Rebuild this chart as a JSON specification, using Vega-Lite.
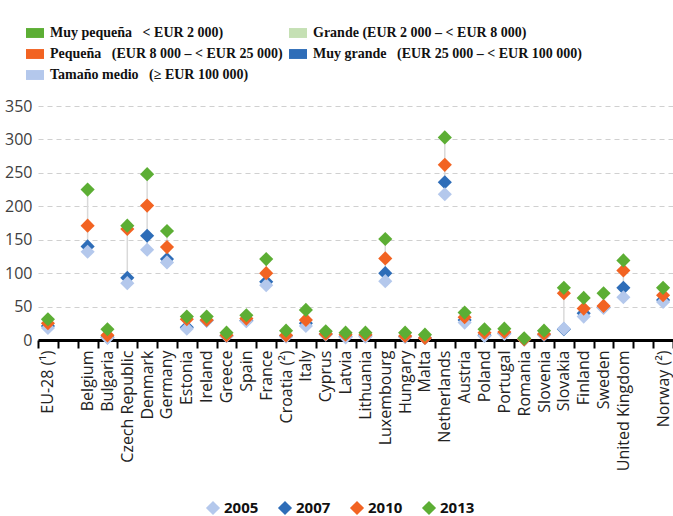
{
  "$schema": "https://vega.github.io/schema/vega-lite/v6.json",
  "width": 635,
  "height": 234,
  "autosize": {"type": "none"},
  "padding": {"left": 38, "top": 106, "right": 0, "bottom": 176},
  "background": "white",
  "config": {
    "view": {"stroke": null},
    "font": "Open Sans"
  },
  "datasets": {
    "vals": [
      {"c": "EU-28 (¹)", "y": "2007", "v": 21}, {"c": "EU-28 (¹)", "y": "2005", "v": 18}, {"c": "EU-28 (¹)", "y": "2010", "v": 25}, {"c": "EU-28 (¹)", "y": "2013", "v": 31},
      {"c": "Belgium", "y": "2007", "v": 140}, {"c": "Belgium", "y": "2005", "v": 132}, {"c": "Belgium", "y": "2010", "v": 171}, {"c": "Belgium", "y": "2013", "v": 225},
      {"c": "Bulgaria", "y": "2007", "v": 4}, {"c": "Bulgaria", "y": "2005", "v": 3}, {"c": "Bulgaria", "y": "2010", "v": 7}, {"c": "Bulgaria", "y": "2013", "v": 16},
      {"c": "Czech Republic", "y": "2007", "v": 93}, {"c": "Czech Republic", "y": "2005", "v": 85}, {"c": "Czech Republic", "y": "2010", "v": 166}, {"c": "Czech Republic", "y": "2013", "v": 171},
      {"c": "Denmark", "y": "2007", "v": 156}, {"c": "Denmark", "y": "2005", "v": 135}, {"c": "Denmark", "y": "2010", "v": 201}, {"c": "Denmark", "y": "2013", "v": 248},
      {"c": "Germany", "y": "2007", "v": 121}, {"c": "Germany", "y": "2005", "v": 116}, {"c": "Germany", "y": "2010", "v": 139}, {"c": "Germany", "y": "2013", "v": 163},
      {"c": "Estonia", "y": "2007", "v": 19}, {"c": "Estonia", "y": "2005", "v": 17}, {"c": "Estonia", "y": "2010", "v": 31}, {"c": "Estonia", "y": "2013", "v": 35},
      {"c": "Ireland", "y": "2007", "v": 29}, {"c": "Ireland", "y": "2005", "v": 29}, {"c": "Ireland", "y": "2010", "v": 30}, {"c": "Ireland", "y": "2013", "v": 35},
      {"c": "Greece", "y": "2007", "v": 6}, {"c": "Greece", "y": "2005", "v": 6}, {"c": "Greece", "y": "2010", "v": 7}, {"c": "Greece", "y": "2013", "v": 11},
      {"c": "Spain", "y": "2007", "v": 29}, {"c": "Spain", "y": "2005", "v": 28}, {"c": "Spain", "y": "2010", "v": 32}, {"c": "Spain", "y": "2013", "v": 37},
      {"c": "France", "y": "2007", "v": 87}, {"c": "France", "y": "2005", "v": 82}, {"c": "France", "y": "2010", "v": 100}, {"c": "France", "y": "2013", "v": 121},
      {"c": "Croatia (²)", "y": "2007", "v": 6}, {"c": "Croatia (²)", "y": "2005", "v": 5}, {"c": "Croatia (²)", "y": "2010", "v": 7}, {"c": "Croatia (²)", "y": "2013", "v": 14},
      {"c": "Italy", "y": "2007", "v": 25}, {"c": "Italy", "y": "2005", "v": 21}, {"c": "Italy", "y": "2010", "v": 30}, {"c": "Italy", "y": "2013", "v": 45},
      {"c": "Cyprus", "y": "2007", "v": 9}, {"c": "Cyprus", "y": "2005", "v": 8}, {"c": "Cyprus", "y": "2010", "v": 9}, {"c": "Cyprus", "y": "2013", "v": 13},
      {"c": "Latvia", "y": "2007", "v": 5}, {"c": "Latvia", "y": "2005", "v": 4}, {"c": "Latvia", "y": "2010", "v": 8}, {"c": "Latvia", "y": "2013", "v": 11},
      {"c": "Lithuania", "y": "2007", "v": 6}, {"c": "Lithuania", "y": "2005", "v": 5}, {"c": "Lithuania", "y": "2010", "v": 8}, {"c": "Lithuania", "y": "2013", "v": 11},
      {"c": "Luxembourg", "y": "2007", "v": 100}, {"c": "Luxembourg", "y": "2005", "v": 88}, {"c": "Luxembourg", "y": "2010", "v": 122}, {"c": "Luxembourg", "y": "2013", "v": 151},
      {"c": "Hungary", "y": "2007", "v": 5}, {"c": "Hungary", "y": "2005", "v": 5}, {"c": "Hungary", "y": "2010", "v": 6}, {"c": "Hungary", "y": "2013", "v": 11},
      {"c": "Malta", "y": "2007", "v": 3}, {"c": "Malta", "y": "2005", "v": 3}, {"c": "Malta", "y": "2010", "v": 3}, {"c": "Malta", "y": "2013", "v": 8},
      {"c": "Netherlands", "y": "2007", "v": 236}, {"c": "Netherlands", "y": "2005", "v": 218}, {"c": "Netherlands", "y": "2010", "v": 262}, {"c": "Netherlands", "y": "2013", "v": 303},
      {"c": "Austria", "y": "2007", "v": 30}, {"c": "Austria", "y": "2005", "v": 26}, {"c": "Austria", "y": "2010", "v": 34}, {"c": "Austria", "y": "2013", "v": 41},
      {"c": "Poland", "y": "2007", "v": 7}, {"c": "Poland", "y": "2005", "v": 6}, {"c": "Poland", "y": "2010", "v": 11}, {"c": "Poland", "y": "2013", "v": 16},
      {"c": "Portugal", "y": "2007", "v": 10}, {"c": "Portugal", "y": "2005", "v": 9}, {"c": "Portugal", "y": "2010", "v": 12}, {"c": "Portugal", "y": "2013", "v": 17},
      {"c": "Romania", "y": "2007", "v": 1}, {"c": "Romania", "y": "2005", "v": 1}, {"c": "Romania", "y": "2010", "v": 1}, {"c": "Romania", "y": "2013", "v": 2.5},
      {"c": "Slovenia", "y": "2007", "v": 8}, {"c": "Slovenia", "y": "2005", "v": 8}, {"c": "Slovenia", "y": "2010", "v": 9}, {"c": "Slovenia", "y": "2013", "v": 14},
      {"c": "Slovakia", "y": "2007", "v": 16}, {"c": "Slovakia", "y": "2005", "v": 17}, {"c": "Slovakia", "y": "2010", "v": 70}, {"c": "Slovakia", "y": "2013", "v": 78},
      {"c": "Finland", "y": "2007", "v": 40}, {"c": "Finland", "y": "2005", "v": 35}, {"c": "Finland", "y": "2010", "v": 47}, {"c": "Finland", "y": "2013", "v": 63},
      {"c": "Sweden", "y": "2007", "v": 49}, {"c": "Sweden", "y": "2005", "v": 48}, {"c": "Sweden", "y": "2010", "v": 51}, {"c": "Sweden", "y": "2013", "v": 70},
      {"c": "United Kingdom", "y": "2007", "v": 78}, {"c": "United Kingdom", "y": "2005", "v": 64}, {"c": "United Kingdom", "y": "2010", "v": 104}, {"c": "United Kingdom", "y": "2013", "v": 119},
      {"c": "Norway (²)", "y": "2007", "v": 60}, {"c": "Norway (²)", "y": "2005", "v": 57}, {"c": "Norway (²)", "y": "2010", "v": 67}, {"c": "Norway (²)", "y": "2013", "v": 78}
    ],
    "classes": [
      {"k": "Muy pequeña\u00a0\u00a0\u00a0< EUR 2 000)"},
      {"k": "Pequeña\u00a0\u00a0\u00a0(EUR 8 000 – < EUR 25 000)"},
      {"k": "Tamaño medio\u00a0\u00a0\u00a0(≥ EUR 100 000)"},
      {"k": "Grande (EUR 2 000 – < EUR 8 000)"},
      {"k": "Muy grande\u00a0\u00a0\u00a0(EUR 25 000 – < EUR 100 000)"}
    ]
  },
  "layer": [
    {
      "data": {"name": "vals"},
      "mark": {"type": "rule", "color": "#d9d9d9", "strokeWidth": 1.5},
      "encoding": {
        "x": {
          "field": "c", "type": "nominal", "sort": null,
          "scale": {
            "domain": ["EU-28 (¹)", " ", "Belgium", "Bulgaria", "Czech Republic", "Denmark", "Germany", "Estonia", "Ireland", "Greece", "Spain", "France", "Croatia (²)", "Italy", "Cyprus", "Latvia", "Lithuania", "Luxembourg", "Hungary", "Malta", "Netherlands", "Austria", "Poland", "Portugal", "Romania", "Slovenia", "Slovakia", "Finland", "Sweden", "United Kingdom", "  ", "Norway (²)"],
            "paddingInner": 0, "paddingOuter": 0
          },
          "axis": {
            "title": null,
            "tickBand": "extent",
            "labelAngle": 270,
            "labelFontSize": 16,
            "labelColor": "#222222",
            "labelPadding": 2,
            "labelOverlap": false,
            "tickSize": 8,
            "tickWidth": 2,
            "tickColor": "#000000",
            "domainColor": "#000000",
            "domainWidth": 3,
            "grid": false
          }
        },
        "y": {
          "aggregate": "min", "field": "v", "type": "quantitative",
          "scale": {"domain": [0, 350], "nice": false},
          "axis": {
            "title": null,
            "values": [0, 50, 100, 150, 200, 250, 300, 350],
            "tickCount": 8,
            "labelOverlap": false,
            "ticks": false,
            "domain": false,
            "labelFontSize": 16,
            "labelColor": "#404040",
            "labelPadding": 6,
            "gridDash": [5, 4],
            "gridColor": "#d0d0d0",
            "gridWidth": 1.2
          }
        },
        "y2": {"aggregate": "max", "field": "v"}
      }
    },
    {
      "data": {"name": "vals"},
      "mark": {"type": "point", "shape": "diamond", "filled": true, "size": 200, "opacity": 1},
      "encoding": {
        "x": {"field": "c", "type": "nominal", "sort": null},
        "y": {"field": "v", "type": "quantitative"},
        "color": {
          "field": "y", "type": "nominal",
          "scale": {"domain": ["2005", "2007", "2010", "2013"], "range": ["#b4c8ec", "#2e6db8", "#f26322", "#5cae34"]},
          "legend": {
            "title": null,
            "orient": "none",
            "direction": "horizontal",
            "legendX": 167,
            "legendY": 394,
            "symbolType": "diamond",
            "symbolSize": 200,
            "labelFontSize": 15,
            "labelFontWeight": "bold",
            "labelColor": "#111111",
            "labelOffset": 3,
            "labelLimit": 200,
            "columnPadding": 18
          }
        }
      }
    },
    {
      "data": {"name": "classes"},
      "mark": {"type": "square", "size": 0, "opacity": 0},
      "encoding": {
        "fill": {
          "field": "k", "type": "nominal", "sort": null,
          "scale": {
            "domain": ["Muy pequeña\u00a0\u00a0\u00a0< EUR 2 000)", "Pequeña\u00a0\u00a0\u00a0(EUR 8 000 – < EUR 25 000)", "Tamaño medio\u00a0\u00a0\u00a0(≥ EUR 100 000)", "Grande (EUR 2 000 – < EUR 8 000)", "Muy grande\u00a0\u00a0\u00a0(EUR 25 000 – < EUR 100 000)"],
            "range": ["#5cae34", "#f26322", "#b4c8ec", "#c5e0b4", "#2e6db8"]
          },
          "legend": {
            "title": null,
            "orient": "none",
            "legendX": -12,
            "legendY": -82,
            "columns": 2,
            "columnPadding": 6,
            "rowPadding": 5,
            "symbolType": "M-1,-0.55H1V0.55H-1Z",
            "symbolSize": 324,
            "symbolOpacity": 1,
            "symbolStrokeWidth": 0,
            "labelFont": "Liberation Sans Narrow",
            "labelFontSize": 14,
            "labelFontWeight": "bold",
            "labelColor": "#111111",
            "labelOffset": 6,
            "labelLimit": 400
          }
        }
      }
    }
  ],
  "resolve": {"scale": {"fill": "independent"}}
}
